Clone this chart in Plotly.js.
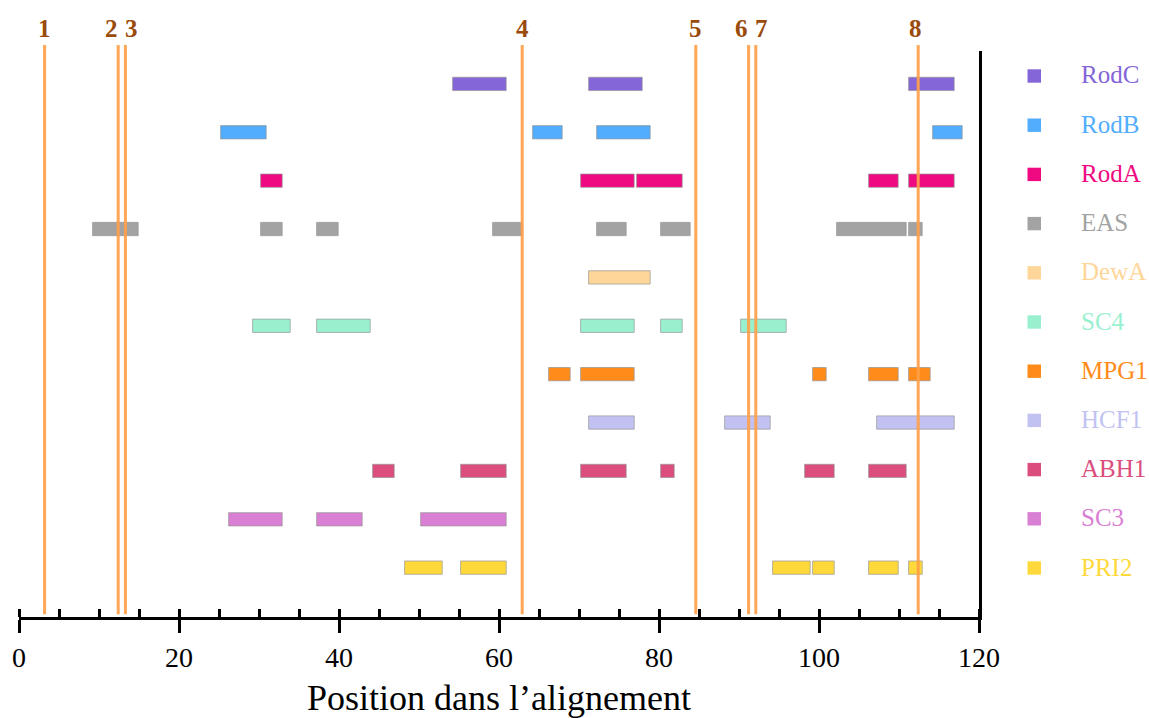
<!DOCTYPE html>
<html>
<head>
<meta charset="utf-8">
<script src="https://cdn.plot.ly/plotly-3.0.1.min.js"></script>
<style>html,body{margin:0;padding:0;background:#fff;}#chart{width:1149px;height:718px;}</style>
</head>
<body>
<div id="chart"></div>
<script>
// ---- Data ----
const series = ["RodC","RodB","RodA","EAS","DewA","SC4","MPG1","HCF1","ABH1","SC3","PRI2"];
const colors = ["#8466d8","#52adff","#f00a82","#a3a3a3","#ffd699","#99f0cf","#ff8c1a","#c2c2f2","#db4d7d","#d97fd4","#ffd93b"];
// segment starts / ends (alignment positions) for each series
const starts = {
  RodC: [54,71,111],
  RodB: [25,64,72,114],
  RodA: [30,70,77,106,111],
  EAS:  [9,30,37,59,72,80,102,111],
  DewA: [71],
  SC4:  [29,37,70,80,90],
  MPG1: [66,70,99,106,111],
  HCF1: [71,88,107],
  ABH1: [44,55,70,80,98,106],
  SC3:  [26,37,50],
  PRI2: [48,55,94,99,106,111]
};
const ends = {
  RodC: [61,78,117],
  RodB: [31,68,79,118],
  RodA: [33,77,83,110,117],
  EAS:  [15,33,40,63,76,84,111,113],
  DewA: [79],
  SC4:  [34,44,77,83,96],
  MPG1: [69,77,101,110,114],
  HCF1: [77,94,117],
  ABH1: [47,61,76,82,102,111],
  SC3:  [33,43,61],
  PRI2: [53,61,99,102,110,113]
};
const markerPositions = [3.2, 12.4, 13.3, 62.9, 84.6, 91.2, 92.1, 112.4];
const markerLabels = ["1","2","3","4","5","6","7","8"];
const xTickVals = [0,20,40,60,80,100,120];
const xTitle = "Position dans l’alignement";

// ---- Layout constants ----
const W = 1149, H = 718;
const M = {l:19, r:170, t:51, b:101};
const plotW = W - M.l - M.r, plotH = H - M.t - M.b;
const serif = "'Liberation Serif', 'Times New Roman', serif";
const labelShift = [0,-7,6,0,0,-7,6,-3];
const insetStart = 0.2, insetEnd = 0.1;

const traces = series.map((s, i) => ({
  type: "bar",
  orientation: "h",
  name: s,
  y: starts[s].map(() => s),
  base: starts[s].map(v => v + insetStart),
  x: starts[s].map((v, k) => ends[s][k] - v - insetStart - insetEnd),
  width: 0.275,
  marker: {color: colors[i], line: {color: "rgba(150,150,150,0.7)", width: 1}},
  hoverinfo: "skip",
  showlegend: false
}));

const shapes = [];
const annotations = [];
const pxToPaperX = p => (p - M.l) / plotW;
const pxToPaperY = p => (M.t + plotH - p) / plotH;

markerPositions.forEach((xv, i) => {
  shapes.push({type: "line", xref: "x", yref: "paper", x0: xv, x1: xv,
    y0: 0.005, y1: pxToPaperY(45), layer: "above",
    line: {color: "rgba(255,160,72,0.92)", width: 3}});
  annotations.push({text: markerLabels[i], xref: "x", yref: "paper", x: xv,
    y: pxToPaperY(29), xanchor: "center", yanchor: "middle", xshift: labelShift[i],
    showarrow: false, font: {family: serif, size: 25, color: "#9a4b0b", weight: "bold"}});
});

// Legend drawn on the right
series.forEach((s, i) => {
  const cy = 76 + i * 49.2;
  shapes.push({type: "rect", xref: "paper", yref: "paper",
    x0: pxToPaperX(1027.5), x1: pxToPaperX(1041), y0: pxToPaperY(cy + 6.7), y1: pxToPaperY(cy - 6.7),
    fillcolor: colors[i], line: {width: 0}});
  annotations.push({text: s, xref: "paper", yref: "paper", x: pxToPaperX(1079),
    y: pxToPaperY(cy), xanchor: "left", yanchor: "middle", yshift: 1, showarrow: false,
    font: {family: serif, size: 25, color: colors[i]}});
});

const layout = {
  width: W, height: H,
  margin: M,
  paper_bgcolor: "#ffffff", plot_bgcolor: "#ffffff",
  barmode: "overlay",
  showlegend: false,
  xaxis: {
    range: [0, 120], tickvals: xTickVals, ticks: "outside", ticklen: 13, tickwidth: 3,
    tickcolor: "#000", showline: true, linewidth: 3, linecolor: "#000",
    showgrid: false, zeroline: false,
    tickfont: {family: serif, size: 28, color: "#000"},
    minor: {dtick: 5, tick0: 0, ticks: "inside", ticklen: 8, tickwidth: 3, tickcolor: "#000", showgrid: false},
    title: {text: xTitle, font: {family: serif, size: 36, color: "#000"}, standoff: 14},
    automargin: false, fixedrange: true
  },
  yaxis: {
    type: "category", categoryarray: series.slice().reverse(),
    range: [-1.02, 10.68], side: "right", showline: true, linewidth: 3, linecolor: "#000",
    showticklabels: false, ticks: "", showgrid: false, zeroline: false,
    automargin: false, fixedrange: true
  },
  shapes: shapes,
  annotations: annotations
};

Plotly.newPlot("chart", traces, layout, {displayModeBar: false, staticPlot: true});
</script>
</body>
</html>
